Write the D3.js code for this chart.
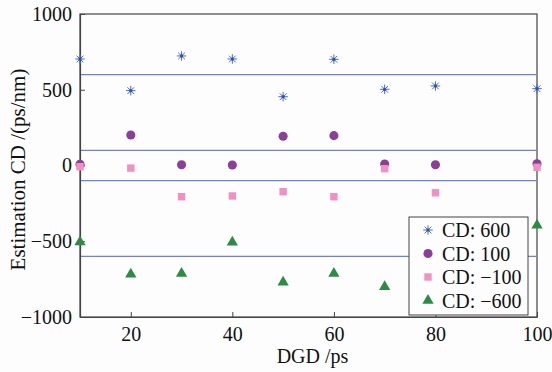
<!DOCTYPE html>
<html><head><meta charset="utf-8">
<script src="https://cdn.jsdelivr.net/npm/d3@7"></script>
<style>body{margin:0;background:#fdfdfd}svg{display:block}text{font-family:"Liberation Serif","DejaVu Serif",serif;fill:#111}</style>
</head><body><svg id="c" width="552" height="372"></svg>
<script>
const dgd = [10,20,30,40,50,60,70,80,100];
const cd600 = [703,494,723,703,454,701,503,525,507];
const cd100 = [8,201,5,3,193,197,10,5,12];
const cdm100 = [-8,-17,-206,-201,-173,-206,-21,-180,-12];
const cdm600 = [-505,-718,-713,-507,-770,-713,-800,null,-395];
const refLines = [600,100,-100,-600];
const xTicks = [20,40,60,80,100];
const yTicks = [-1000,-500,0,500,1000];
const seriesNames = ["CD: 600","CD: 100","CD: −100","CD: −600"];
const colors = ["#4a6cc8","#8c3f98","#f191c3","#2e8b44"];
const shapes = ["star","circle","square","triangle"];
const seriesVals = [cd600, cd100, cdm100, cdm600];

const svg = d3.select("#c");
const m = {l:80, r:537, t:14, b:317};
const x = d3.scaleLinear().domain([10,100]).range([m.l, m.r]);
const y = d3.scaleLinear().domain([-1000,1000]).range([m.b, m.t]);
const fmt = d => d < 0 ? "−" + Math.abs(d) : String(d);
const FS = "20px";

svg.append("rect").attr("x",m.l).attr("y",m.t).attr("width",m.r-m.l).attr("height",m.b-m.t)
  .attr("fill","none").attr("stroke","#444").attr("stroke-width",1.2);

svg.selectAll(".ref").data(refLines).enter().append("line")
  .attr("x1",m.l).attr("x2",m.r).attr("y1",d=>y(d)).attr("y2",d=>y(d))
  .attr("stroke","#6f82d2").attr("stroke-width",1.2);

const ax = svg.append("g").attr("transform",`translate(0,${m.b})`)
  .call(d3.axisBottom(x).tickValues(xTicks).tickSizeInner(-5).tickSizeOuter(0).tickPadding(10).tickFormat(fmt));
const ay = svg.append("g").attr("transform",`translate(${m.l},0)`)
  .call(d3.axisLeft(y).tickValues(yTicks).tickSizeInner(-5).tickSizeOuter(0).tickPadding(8).tickFormat(fmt));
[ax,ay].forEach(g=>{
  g.select(".domain").attr("stroke","#444").attr("stroke-width",1.2);
  g.selectAll(".tick line").attr("stroke","#444");
  g.selectAll("text").style("font-size",FS).attr("fill","#111");
});

const star8 = {draw(ctx, size){
  const r = Math.sqrt(size)/2;
  for(let k=0;k<4;k++){
    const a = k*Math.PI/4;
    ctx.moveTo(r*Math.cos(a), r*Math.sin(a));
    ctx.lineTo(-r*Math.cos(a), -r*Math.sin(a));
  }
}};
const sym = {
  star: d3.symbol().type(star8).size(90),
  circle: d3.symbol().type(d3.symbolCircle).size(65),
  square: d3.symbol().type(d3.symbolSquare).size(55),
  triangle: d3.symbol().type(d3.symbolTriangle).size(55)
};
function drawMark(g, shape, color){
  const p = g.append("path").attr("d", sym[shape]());
  if(shape==="star"){
    p.attr("fill","none").attr("stroke",color).attr("stroke-width",1);
    g.append("circle").attr("r",1.6).attr("fill","#2d4fb0");
  } else p.attr("fill",color);
}

seriesVals.forEach((vals,i)=>{
  const pts = dgd.map((d,j)=>({x:d,v:vals[j]})).filter(p=>p.v!=null);
  pts.forEach(p=>{
    const g = svg.append("g").attr("transform",`translate(${x(p.x)},${y(p.v)})`);
    drawMark(g, shapes[i], colors[i]);
  });
});

const lg = svg.append("g").attr("transform","translate(409,217)");
lg.append("rect").attr("width",119).attr("height",98).attr("fill","#fdfdfd").attr("stroke","#444").attr("stroke-width",1);
seriesNames.forEach((n,i)=>{
  const yy = 13 + i*23.5;
  const g = lg.append("g").attr("transform",`translate(19,${yy})`);
  drawMark(g, shapes[i], colors[i]);
  lg.append("text").attr("x",33).attr("y",yy).attr("dy","0.35em").style("font-size",FS).text(n);
});

svg.append("text").attr("x",(m.l+m.r)/2+4).attr("y",363).attr("text-anchor","middle").style("font-size",FS).text("DGD /ps");
svg.append("text").attr("transform",`translate(25,${(m.t+m.b)/2+4}) rotate(-90)`).attr("text-anchor","middle").style("font-size","21px").text("Estimation CD /(ps/nm)");
</script></body></html>
